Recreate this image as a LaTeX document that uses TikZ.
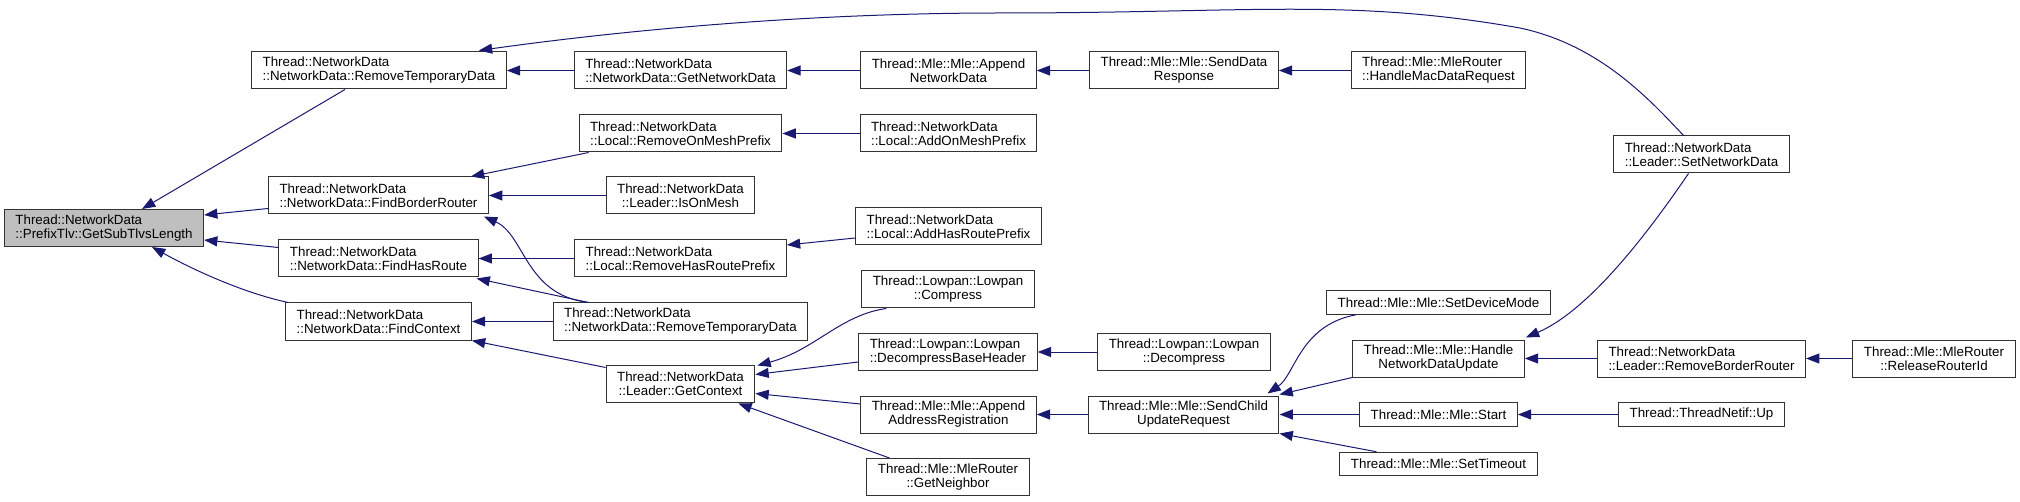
\documentclass[tikz,border=0pt]{standalone}
\usepackage{fontspec}
\setmainfont{Liberation Sans}
\usetikzlibrary{arrows.meta, calc}
\definecolor{edge-blue}{HTML}{191970}
\definecolor{box-border}{HTML}{333333}
\definecolor{root-fill}{HTML}{BFBFBF}
\tikzset{
  fn/.style={
    draw=box-border, fill=white, line width=0.75pt,
    font=\fontsize{10}{10.5}\selectfont, align=center,
    inner xsep=8.25pt, inner ysep=0pt, minimum height=27.75pt
  },
  fnl/.style={fn, align=left},
  fnone/.style={fn, minimum height=17.6pt},
  rootfn/.style={fnl, fill=root-fill},
  call/.style={{Triangle[length=10pt, width=7.5pt]}-, line width=0.75pt, draw=edge-blue}
}

\begin{document}
\begin{tikzpicture}[x=0.75pt, y=-0.75pt]
  \useasboundingbox (0,0) rectangle (2020,502);

  % ---- callee --------------------------------------------------------------
  \node[rootfn] (root) at (104,228) {Thread::NetworkData\\::PrefixTlv::GetSubTlvsLength};

  % ---- column 1 ------------------------------------------------------------
  \node[fnl] (remtmpA) at (379,70.5)   {Thread::NetworkData\\::NetworkData::RemoveTemporaryData};
  \node[fnl] (findbr)  at (378.5,195.5) {Thread::NetworkData\\::NetworkData::FindBorderRouter};
  \node[fnl] (findhr)  at (378.5,258.5) {Thread::NetworkData\\::NetworkData::FindHasRoute};
  \node[fnl] (findctx) at (378.5,321.5) {Thread::NetworkData\\::NetworkData::FindContext};

  % ---- column 2 ------------------------------------------------------------
  \node[fnl] (getnd)   at (680.5,70.5)  {Thread::NetworkData\\::NetworkData::GetNetworkData};
  \node[fnl] (remomp)  at (680.5,133.5) {Thread::NetworkData\\::Local::RemoveOnMeshPrefix};
  \node[fn]  (isonm)   at (680.5,195.5) {Thread::NetworkData\\::Leader::IsOnMesh};
  \node[fnl] (remhrp)  at (680.5,258.5) {Thread::NetworkData\\::Local::RemoveHasRoutePrefix};
  \node[fnl] (remtmpB) at (680.5,321.5) {Thread::NetworkData\\::NetworkData::RemoveTemporaryData};
  \node[fn]  (getctx)  at (680.5,383.5) {Thread::NetworkData\\::Leader::GetContext};

  % ---- column 3 ------------------------------------------------------------
  \node[fn]  (appnd)   at (948.5,70.5)  {Thread::Mle::Mle::Append\\NetworkData};
  \node[fnl] (addomp)  at (948.5,133.5) {Thread::NetworkData\\::Local::AddOnMeshPrefix};
  \node[fnl] (addhrp)  at (948.5,226.5) {Thread::NetworkData\\::Local::AddHasRoutePrefix};
  \node[fn]  (compr)   at (948,289.5)   {Thread::Lowpan::Lowpan\\::Compress};
  \node[fnl] (decbh)   at (948,352)     {Thread::Lowpan::Lowpan\\::DecompressBaseHeader};
  \node[fn]  (appar)   at (948.5,414.5) {Thread::Mle::Mle::Append\\AddressRegistration};
  \node[fn]  (getnb)   at (948,477)     {Thread::Mle::MleRouter\\::GetNeighbor};

  % ---- column 4 ------------------------------------------------------------
  \node[fn]  (senddr)  at (1184,70.5)   {Thread::Mle::Mle::SendData\\Response};
  \node[fn]  (decomp)  at (1184,352)    {Thread::Lowpan::Lowpan\\::Decompress};
  \node[fn]  (sendcur) at (1183.5,414.5) {Thread::Mle::Mle::SendChild\\UpdateRequest};

  % ---- column 5 ------------------------------------------------------------
  \node[fnl]   (handmdr) at (1438.5,70.5)  {Thread::Mle::MleRouter\\::HandleMacDataRequest};
  \node[fnone] (setdm)   at (1438.5,302.5) {Thread::Mle::Mle::SetDeviceMode};
  \node[fn]    (handndu) at (1438.5,358.5) {Thread::Mle::Mle::Handle\\NetworkDataUpdate};
  \node[fnone] (mlestart) at (1438.5,414.5) {Thread::Mle::Mle::Start};
  \node[fnone] (settmo)  at (1438.5,464)   {Thread::Mle::Mle::SetTimeout};

  % ---- column 6 and 7 ------------------------------------------------------
  \node[fnl]   (setnd)   at (1701.5,154.5) {Thread::NetworkData\\::Leader::SetNetworkData};
  \node[fnl]   (rembr)   at (1701.5,358.5) {Thread::NetworkData\\::Leader::RemoveBorderRouter};
  \node[fnone] (netifup) at (1701.5,414.5) {Thread::ThreadNetif::Up};
  \node[fn]    (relrid)  at (1934,358.5)   {Thread::Mle::MleRouter\\::ReleaseRouterId};

  % ---- calls into the root -------------------------------------------------
  \draw[call] ($(root.north)+(38,0)$) -- ($(remtmpA.south)+(-34,0)$);
  \draw[call] ($(root.east)+(0,-13)$) -- ($(findbr.west)+(0,13)$);
  \draw[call] ($(root.east)+(0,12)$) -- ($(findhr.west)+(0,-11)$);
  \draw[call] ($(root.south)+(48,0)$) .. controls (190,268) and (240,292) .. ($(findctx.north west)+(3,0)$);

  % ---- calls into column 1 -------------------------------------------------
  \draw[call] (remtmpA.east) -- (getnd.west);
  \draw[call] ($(remtmpA.north east)+(-28,-1)$) .. controls (640,28) and (820,13) .. (1000,13)
    .. controls (1250,13) and (1350,-2) .. (1520,28)
    .. controls (1600,45) and (1650,100) .. ($(setnd.north)+(-18,0)$);
  \draw[call] ($(findbr.north east)+(-18,0)$) -- ($(remomp.south west)+(10,0)$);
  \draw[call] (findbr.east) -- (isonm.west);
  \draw[call] ($(findbr.south east)+(-5,2)$) .. controls (525,235) and (525,295) .. ($(remtmpB.north west)+(36,0)$);
  \draw[call] (findhr.east) -- (remhrp.west);
  \draw[call] ($(findhr.south east)+(-2,1)$) -- ($(remtmpB.north west)+(36,0)$);
  \draw[call] (findctx.east) -- (remtmpB.west);
  \draw[call] (findctx.south east) -- ($(getctx.north west)+(0,3)$);

  % ---- calls into column 2 -------------------------------------------------
  \draw[call] (getnd.east) -- (appnd.west);
  \draw[call] (remomp.east) -- (addomp.west);
  \draw[call] ($(remhrp.east)+(0,-13.5)$) -- ($(addhrp.west)+(0,11.5)$);
  \draw[call] ($(getctx.north east)+(2,1)$) .. controls (815,350) and (840,315) .. ($(compr.south west)+(25,0)$);
  \draw[call] ($(getctx.east)+(0,-9)$) -- ($(decbh.west)+(0,10)$);
  \draw[call] ($(getctx.east)+(0,10)$) -- ($(appar.west)+(0,-10.5)$);
  \draw[call] ($(getctx.south east)+(-17,1)$) -- ($(getnb.north west)+(23,0)$);

  % ---- calls into column 3 and 4 -------------------------------------------
  \draw[call] (appnd.east) -- (senddr.west);
  \draw[call] (decbh.east) -- (decomp.west);
  \draw[call] (appar.east) -- (sendcur.west);
  \draw[call] (senddr.east) -- (handmdr.west);
  \draw[call] ($(sendcur.north east)+(-12,-2)$) .. controls (1295,375) and (1300,325) .. ($(setdm.south west)+(30,0)$);
  \draw[call] ($(sendcur.north east)+(0,-1)$) -- (handndu.south west);
  \draw[call] (sendcur.east) -- (mlestart.west);
  \draw[call] (sendcur.south east) -- ($(settmo.north west)+(37,0)$);

  % ---- calls into column 5 and 6 -------------------------------------------
  \draw[call] ($(handndu.north east)+(1,-2)$) .. controls (1590,310) and (1650,230) .. ($(setnd.south)+(-13,0)$);
  \draw[call] (handndu.east) -- (rembr.west);
  \draw[call] (mlestart.east) -- (netifup.west);
  \draw[call] (rembr.east) -- (relrid.west);

\end{tikzpicture}
\end{document}
